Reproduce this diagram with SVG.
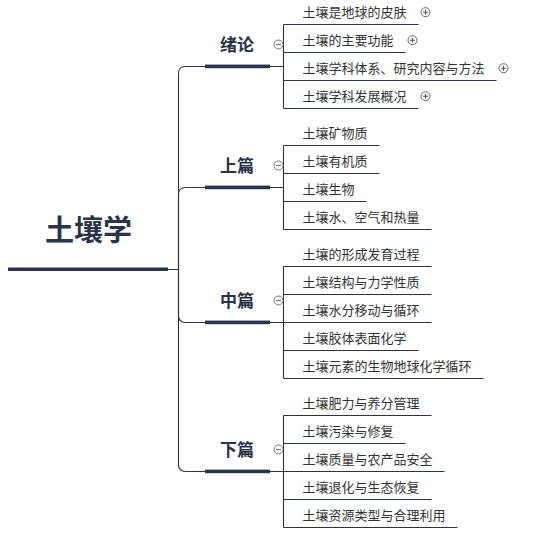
<svg xmlns="http://www.w3.org/2000/svg" width="537" height="534" viewBox="0 0 537 534">
<style>
.bg{fill:#ffffff}
.conn{fill:none;stroke:#2a3349;stroke-width:1.1}
.uline{fill:none;stroke:#2a3349;stroke-width:1.1}
.bar{fill:#2a3349}
.root{font-family:"Noto Sans CJK SC","Noto Sans",sans-serif;font-size:29px;font-weight:700;fill:#2a3349;text-anchor:middle}
.branch{font-family:"Noto Sans CJK SC","Noto Sans",sans-serif;font-size:17px;font-weight:700;fill:#2a3349;text-anchor:middle}
.child{font-family:"Noto Sans CJK SC","Noto Sans",sans-serif;font-size:13px;fill:#333333}
.icon{fill:#ffffff;stroke:#666666;stroke-width:1}
.iconline{stroke:#555555;stroke-width:1.1}
</style>
<defs>
<g id="plus"><circle class="icon" cx="0" cy="0" r="4.5"/><path class="iconline" d="M-2.5,0H2.5M0,-2.5V2.5"/></g>
<g id="minus"><circle class="icon" cx="0" cy="0" r="4.5" style="stroke:#777"/><path class="iconline" d="M-2.5,0H2.5" style="stroke:#777"/></g>
</defs>
<rect class="bg" x="0" y="0" width="537" height="534"/>

<g id="connectors">
<path class="conn" d="M168,269.5H178.5V73.5Q178.5,66.5 185.5,66.5H205"/>
<path class="conn" d="M168,269.5H178.5V194.5Q178.5,187.5 185.5,187.5H205"/>
<path class="conn" d="M168,269.5H178.5V315.5Q178.5,322.5 185.5,322.5H205"/>
<path class="conn" d="M168,269.5H178.5V464.5Q178.5,471.5 185.5,471.5H205"/>
<path class="conn" d="M270,66.5H283.5M283.5,24.5V108.5"/>
<path class="conn" d="M270,187.5H283.5M283.5,145.5V229.5"/>
<path class="conn" d="M270,322.5H283.5M283.5,266.5V378.5"/>
<path class="conn" d="M270,471.5H283.5M283.5,415.5V527.5"/>
</g>

<g id="root">
<text class="root" x="88.5" y="241">土壤学</text>
<rect class="bar" x="8" y="267.5" width="160" height="3.5"/>
</g>

<g id="b-xulun">
<text class="branch" x="237" y="50.8">绪论</text>
<rect class="bar" x="205" y="64.6" width="65" height="3.6"/>
<use href="#minus" x="278.5" y="44.5"/>
</g>
<g id="b-shang">
<text class="branch" x="237" y="171.8">上篇</text>
<rect class="bar" x="205" y="185.6" width="65" height="3.6"/>
<use href="#minus" x="278.5" y="165.5"/>
</g>
<g id="b-zhong">
<text class="branch" x="237" y="306.8">中篇</text>
<rect class="bar" x="205" y="320.6" width="65" height="3.6"/>
<use href="#minus" x="278.5" y="300.5"/>
</g>
<g id="b-xia">
<text class="branch" x="237" y="455.8">下篇</text>
<rect class="bar" x="205" y="469.6" width="65" height="3.6"/>
<use href="#minus" x="278.5" y="449.5"/>
</g>

<!-- 绪论 children -->
<g id="c1-1"><text class="child" x="302.5" y="17.2">土壤是地球的皮肤</text><path class="uline" d="M283.5,24.5H418.5"/><use href="#plus" x="425.5" y="12.2"/></g>
<g id="c1-2"><text class="child" x="302.5" y="45.2">土壤的主要功能</text><path class="uline" d="M283.5,52.5H405.5"/><use href="#plus" x="412.5" y="40.2"/></g>
<g id="c1-3"><text class="child" x="302.5" y="73.2">土壤学科体系、研究内容与方法</text><path class="uline" d="M283.5,80.5H496.5"/><use href="#plus" x="503.5" y="68.2"/></g>
<g id="c1-4"><text class="child" x="302.5" y="101.2">土壤学科发展概况</text><path class="uline" d="M283.5,108.5H418.5"/><use href="#plus" x="425.5" y="96.2"/></g>

<!-- 上篇 children -->
<g id="c2-1"><text class="child" x="302.5" y="138.2">土壤矿物质</text><path class="uline" d="M283.5,145.5H379.5"/></g>
<g id="c2-2"><text class="child" x="302.5" y="166.2">土壤有机质</text><path class="uline" d="M283.5,173.5H379.5"/></g>
<g id="c2-3"><text class="child" x="302.5" y="194.2">土壤生物</text><path class="uline" d="M283.5,201.5H366.5"/></g>
<g id="c2-4"><text class="child" x="302.5" y="222.2">土壤水、空气和热量</text><path class="uline" d="M283.5,229.5H431.5"/></g>

<!-- 中篇 children -->
<g id="c3-1"><text class="child" x="302.5" y="259.2">土壤的形成发育过程</text><path class="uline" d="M283.5,266.5H431.5"/></g>
<g id="c3-2"><text class="child" x="302.5" y="287.2">土壤结构与力学性质</text><path class="uline" d="M283.5,294.5H431.5"/></g>
<g id="c3-3"><text class="child" x="302.5" y="315.2">土壤水分移动与循环</text><path class="uline" d="M283.5,322.5H431.5"/></g>
<g id="c3-4"><text class="child" x="302.5" y="343.2">土壤胶体表面化学</text><path class="uline" d="M283.5,350.5H418.5"/></g>
<g id="c3-5"><text class="child" x="302.5" y="371.2">土壤元素的生物地球化学循环</text><path class="uline" d="M283.5,378.5H483.5"/></g>

<!-- 下篇 children -->
<g id="c4-1"><text class="child" x="302.5" y="408.2">土壤肥力与养分管理</text><path class="uline" d="M283.5,415.5H431.5"/></g>
<g id="c4-2"><text class="child" x="302.5" y="436.2">土壤污染与修复</text><path class="uline" d="M283.5,443.5H405.5"/></g>
<g id="c4-3"><text class="child" x="302.5" y="464.2">土壤质量与农产品安全</text><path class="uline" d="M283.5,471.5H444.5"/></g>
<g id="c4-4"><text class="child" x="302.5" y="492.2">土壤退化与生态恢复</text><path class="uline" d="M283.5,499.5H431.5"/></g>
<g id="c4-5"><text class="child" x="302.5" y="520.2">土壤资源类型与合理利用</text><path class="uline" d="M283.5,527.5H457.5"/></g>
</svg>
